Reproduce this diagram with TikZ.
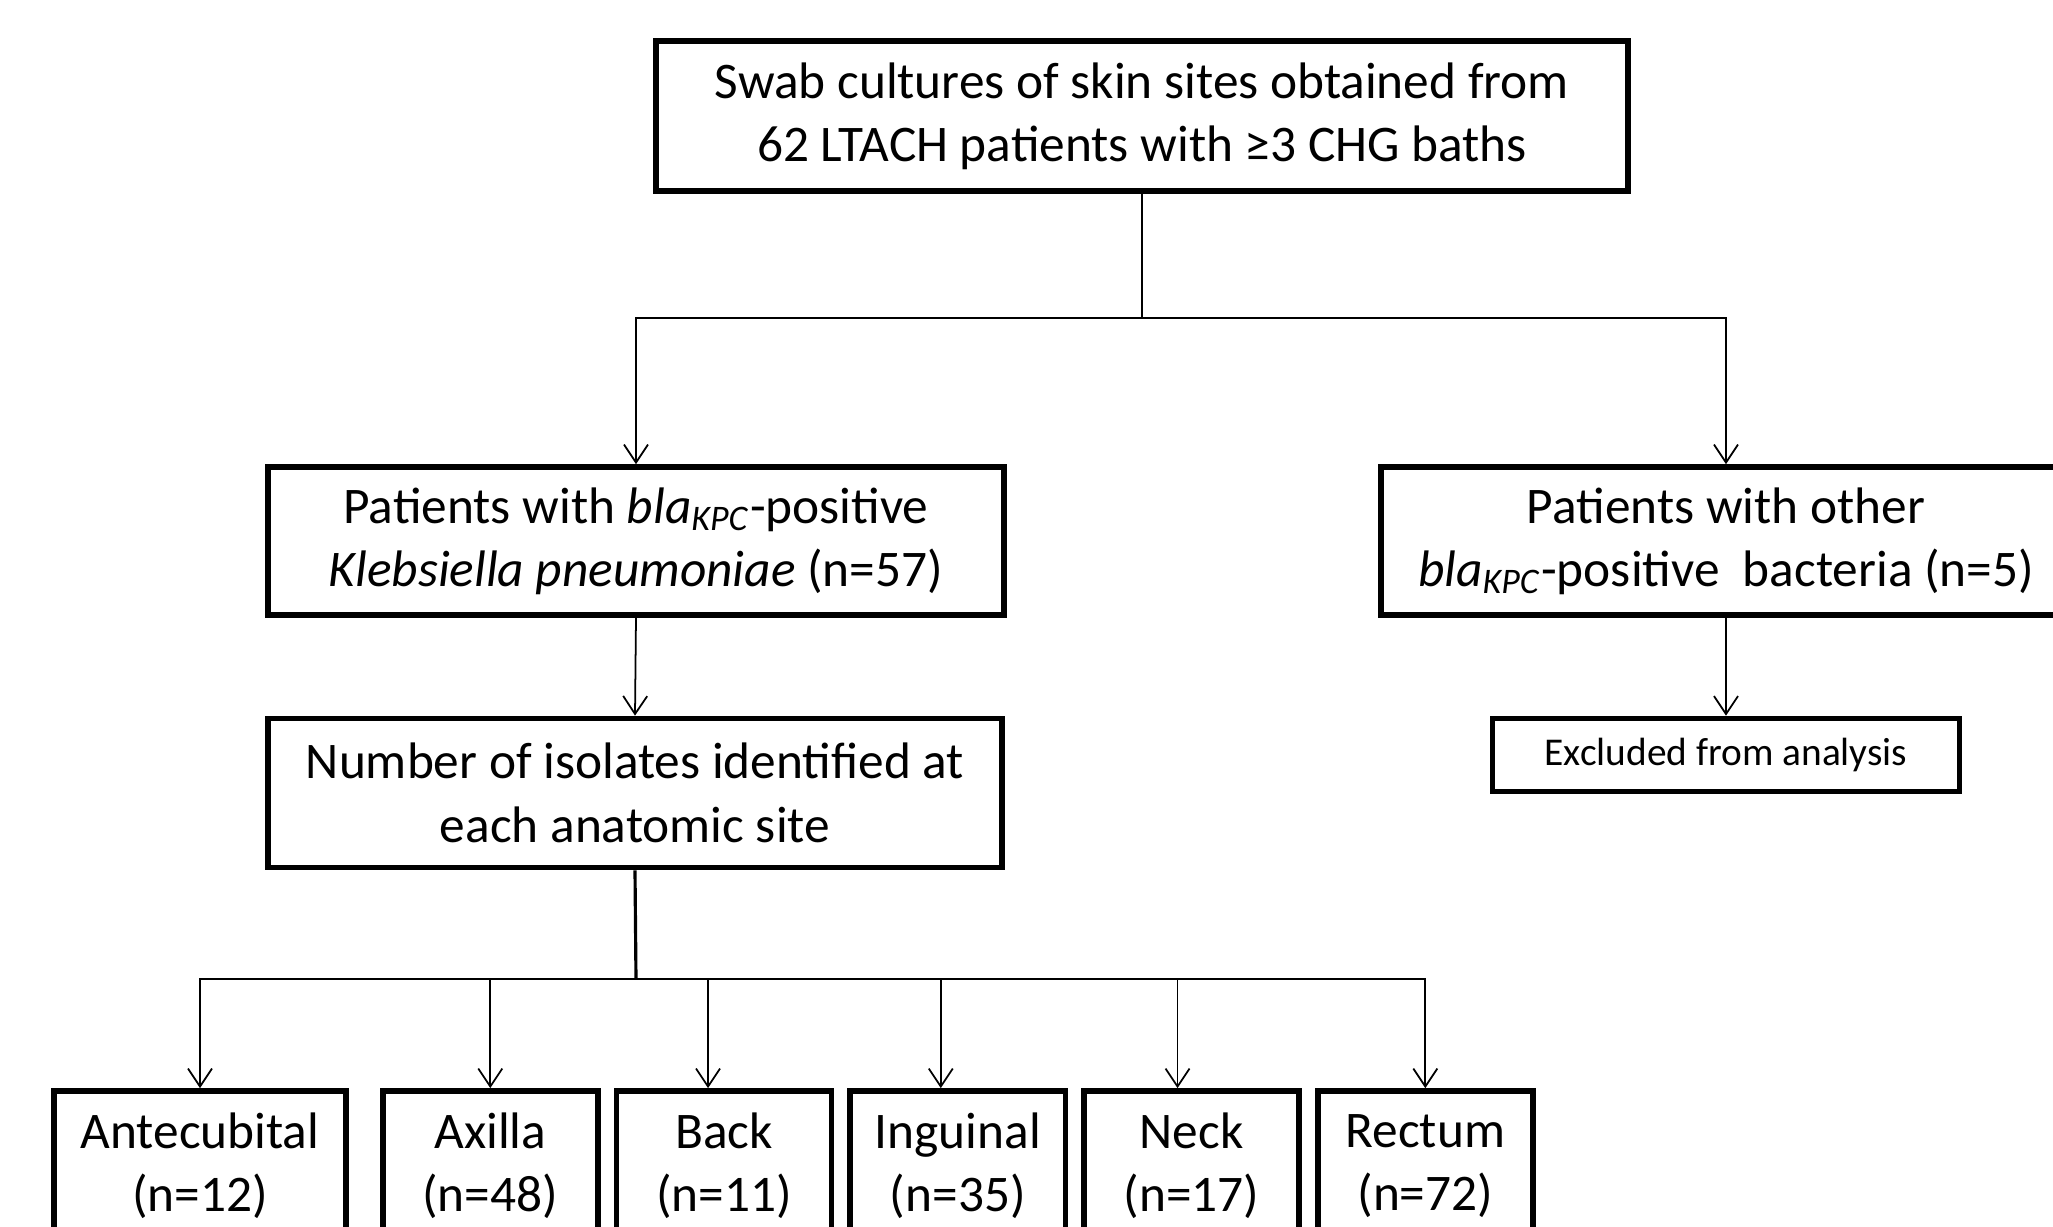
\documentclass[tikz,border=0pt]{standalone}
\usepackage{fontspec}
\setmainfont{Carlito}
\usetikzlibrary{arrows.meta, positioning}

\begin{document}
\begin{tikzpicture}[
        x=0.01cm, y=-0.01cm,
        >={Straight Barb[length=1.8mm, width=2.4mm]},
        box/.style={rectangle, draw, line width=1.6pt, align=center, inner sep=2pt,
            font=\fontsize{14.6}{18}\selectfont},
        smallbox/.style={box, font=\fontsize{11.2}{13}\selectfont},
        site/.style={box, minimum width=2.15cm, minimum height=1.5cm},
        line/.style={-, line width=0.5pt},
        stem/.style={-, line width=0.9pt}
    ]
        \useasboundingbox (0,0) rectangle (2053,1227);
        \clip (0,0) rectangle (2053,1227);

        % Top of the flow
        \node[box, minimum width=9.71cm, minimum height=1.5cm] (src) at (1142,116)
            {Swab cultures of skin sites obtained from\\62 LTACH patients with ≥3 CHG baths};
        \coordinate (split) at (1142,318);

        % Left branch
        \node[box, minimum width=7.36cm, minimum height=1.48cm] (kpc) at (636,541)
            {Patients with \textit{bla}\textsubscript{\textit{KPC}}-positive\\
             \textit{Klebsiella pneumoniae} (n=57)};
        \node[box, minimum width=7.34cm, minimum height=1.49cm] (sites) at (635,793)
            {Number of isolates identified at\\each anatomic site};
        \coordinate (fan) at (636,979);

        % Right branch
        \node[box, minimum width=6.9cm, minimum height=1.48cm] (other) at (1726,541)
            {Patients with other\\
             \textit{bla}\textsubscript{\textit{KPC}}-positive\ \ bacteria (n=5)};
        \node[smallbox, minimum width=4.67cm, minimum height=0.73cm] (excl) at (1726,755)
            {Excluded from analysis};

        % Anatomic sites
        \node[site, minimum width=2.92cm] (s1) at (200,1166) {Antecubital\\(n=12)};
        \node[site, right=0.31cm of s1] (s2) {Axilla\\(n=48)};
        \node[site, right=0.13cm of s2] (s3) {Back\\(n=11)};
        \node[site, right=0.13cm of s3] (s4) {Inguinal\\(n=35)};
        \node[site, right=0.13cm of s4] (s5) {Neck\\(n=17)};
        \node[site, right=0.13cm of s5] (s6) {Rectum\\(n=72)};

        \draw[line] (src.south) -- (split);
        \draw[line, ->] (split) -| (kpc.north);
        \draw[line, ->] (split) -| (other.north);
        \draw[line, ->] (kpc.south) -- (sites.north);
        \draw[line, ->] (other.south) -- (excl.north);

        \draw[stem] (sites.south) -- (fan);
        \foreach \s/\dx in {s1/0, s2/0, s3/-0.16, s4/-0.17, s5/-0.14, s6/0}
            \draw[line, ->] (fan) -| ([xshift=\dx cm]\s.north);

    \end{tikzpicture}
\end{document}
